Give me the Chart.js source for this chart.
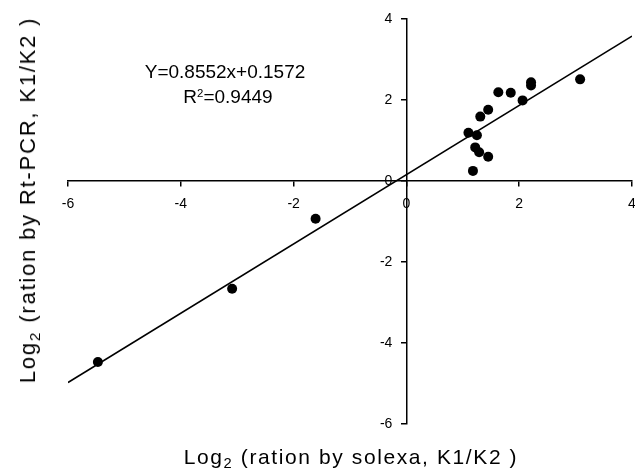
<!DOCTYPE html>
<html>
<head>
<meta charset="utf-8">
<script src="https://cdn.jsdelivr.net/npm/chart.js@4.4.1/dist/chart.umd.min.js"></script>
<style>
  html, body { margin: 0; padding: 0; background: #ffffff; }
  #wrap { position: relative; width: 635px; height: 471px; overflow: hidden; }
  canvas { position: absolute; left: 0; top: 0; }
  .lbl { position: absolute; font-family: "Liberation Sans", Arial, sans-serif; color: #000; white-space: nowrap; }
  .lbl sub { font-size: 70%; vertical-align: -0.3em; line-height: 0; }
  .lbl sup { font-size: 60%; vertical-align: 0.55em; line-height: 0; }
  #xtitle { left: 351px; top: 457px; font-size: 21px; letter-spacing: 1.6px; transform: translate(-50%, -50%); }
  #ytitle { left: 28px; top: 200px; font-size: 22px; letter-spacing: 1.8px; transform: translate(-50%, -50%) rotate(-90deg); }
  #eq1 { left: 225px; top: 72px; font-size: 19px; transform: translate(-50%, -50%); }
  #eq2 { left: 228px; top: 97px; font-size: 19px; transform: translate(-50%, -50%); }
</style>
</head>
<body>
<div id="wrap">
  <canvas id="c" width="635" height="471"></canvas>
  <div class="lbl" id="xtitle">Log<sub>2</sub> (ration by solexa, K1/K2 )</div>
  <div class="lbl" id="ytitle">Log<sub>2</sub> (ration by Rt-PCR, K1/K2 )</div>
  <div class="lbl" id="eq1">Y=0.8552x+0.1572</div>
  <div class="lbl" id="eq2">R<sup>2</sup>=0.9449</div>
</div>
<script>
// Data
const solexaLog2 = [-5.47, -3.09, -1.61, 1.10, 1.25, 1.31, 1.45, 1.63, 1.85, 2.06, 2.21, 2.21, 3.08, 1.22, 1.29, 1.45, 1.18];
const rtpcrLog2  = [-4.47, -2.66, -0.93, 1.19, 1.13, 1.59, 1.76, 2.19, 2.18, 1.99, 2.44, 2.36, 2.51, 0.83, 0.71, 0.60, 0.25];
// Regression fit shown on the chart
const fitSlope = 0.8552;
const fitIntercept = 0.1572;
const fitXRange = [-6, 4];
// Axis ticks
const xTicks = [-6, -4, -2, 0, 2, 4];
const yTicks = [-6, -4, -2, 0, 2, 4];

const points = solexaLog2.map((x, i) => ({ x: x, y: rtpcrLog2[i] }));
const fitLine = fitXRange.map(x => ({ x: x, y: fitSlope * x + fitIntercept }));

const tickFont = { family: '"Liberation Sans", Arial, sans-serif', size: 14 };

new Chart(document.getElementById('c'), {
  type: 'scatter',
  data: {
    datasets: [
      {
        label: 'fit',
        type: 'line',
        data: fitLine,
        borderColor: '#000',
        borderWidth: 1.6,
        pointRadius: 0,
        fill: false,
        tension: 0,
        order: 2
      },
      {
        label: 'genes',
        data: points,
        backgroundColor: '#000',
        borderColor: '#000',
        pointRadius: 5,
        pointBorderWidth: 0,
        order: 1
      }
    ]
  },
  options: {
    responsive: false,
    devicePixelRatio: 1,
    animation: false,
    layout: { autoPadding: false, padding: { left: 68, right: 3, top: 19, bottom: 47 } },
    plugins: { legend: { display: false }, tooltip: { enabled: false } },
    scales: {
      x: {
        type: 'linear',
        position: { y: 0 },
        min: xTicks[0],
        max: xTicks[xTicks.length - 1],
        afterBuildTicks: (s) => { s.ticks = xTicks.map(v => ({ value: v })); },
        afterFit: (s) => { s.paddingLeft = 0; s.paddingRight = 0; },
        ticks: { color: '#000', font: tickFont, padding: 10, maxRotation: 0 },
        grid: { drawOnChartArea: false, drawTicks: true, tickLength: 5, color: '#000', lineWidth: 1.5 },
        border: { display: true, color: '#000', width: 1.5 }
      },
      y: {
        type: 'linear',
        position: { x: 0 },
        min: yTicks[0],
        max: yTicks[yTicks.length - 1],
        afterBuildTicks: (s) => { s.ticks = yTicks.map(v => ({ value: v })); },
        afterFit: (s) => { s.paddingTop = 0; s.paddingBottom = 0; },
        ticks: { color: '#000', font: tickFont, callback: (v) => v + '\u2002\u2002' },
        grid: { drawOnChartArea: false, drawTicks: true, tickLength: 5, color: '#000', lineWidth: 1.5 },
        border: { display: true, color: '#000', width: 1.5 }
      }
    }
  }
});
</script>
</body>
</html>
